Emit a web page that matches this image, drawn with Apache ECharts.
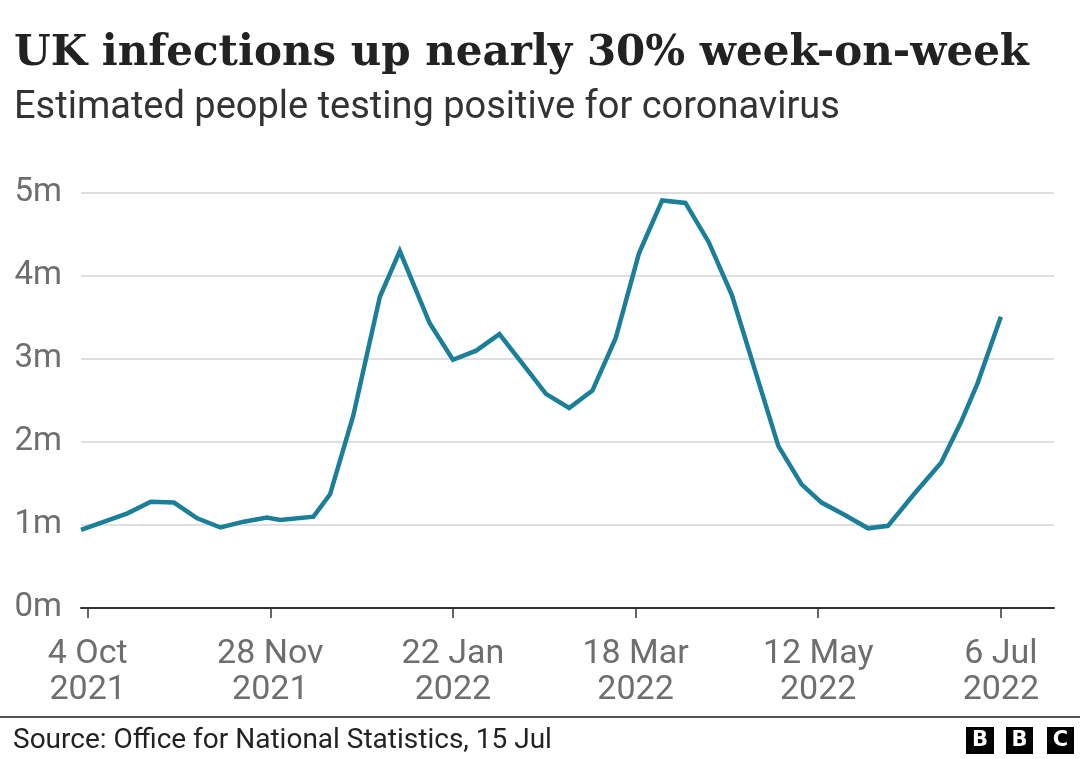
<!DOCTYPE html>
<html>
<head>
<meta charset="utf-8">
<script src="https://cdn.jsdelivr.net/npm/echarts@6/dist/echarts.min.js"></script>
<style>html,body{margin:0;padding:0;background:#fff;}#c{width:1080px;height:759px;}</style>
</head>
<body>
<div id="c"></div>
<script>
// ---- data ----
const dates = ['2021-10-02','2021-10-09','2021-10-16','2021-10-23','2021-10-30','2021-11-06','2021-11-13','2021-11-20','2021-11-27','2021-12-01','2021-12-11','2021-12-16','2021-12-23','2021-12-31','2022-01-06','2022-01-15','2022-01-22','2022-01-29','2022-02-05','2022-02-12','2022-02-19','2022-02-26','2022-03-05','2022-03-12','2022-03-19','2022-03-26','2022-04-02','2022-04-09','2022-04-16','2022-04-23','2022-04-30','2022-05-07','2022-05-13','2022-05-20','2022-05-27','2022-06-02','2022-06-10','2022-06-18','2022-06-24','2022-06-29','2022-07-06'];
const positives = [0.94,1.04,1.14,1.28,1.27,1.08,0.97,1.04,1.09,1.06,1.10,1.37,2.32,3.75,4.30,3.43,2.99,3.10,3.30,2.94,2.58,2.41,2.62,3.25,4.27,4.91,4.88,4.41,3.77,2.86,1.95,1.49,1.27,1.12,0.96,0.99,1.38,1.75,2.24,2.71,3.51];
const tickDates = ['2021-10-04','2021-11-28','2022-01-22','2022-03-18','2022-05-12','2022-07-06'];
const tickLabels = ['4 Oct\n2021','28 Nov\n2021','22 Jan\n2022','18 Mar\n2022','12 May\n2022','6 Jul\n2022'];
const yTicks = [0,1,2,3,4,5];
const yLabels = ['0m','1m','2m','3m','4m','5m'];
const axisStart = '2021-10-02';
const axisEnd = '2022-07-22';

// day offsets from the first tick date (UTC to avoid DST drift)
function dayOf(s){ const p = s.split('-').map(Number); return Date.UTC(p[0], p[1]-1, p[2]) / 86400000; }
const origin = dayOf(tickDates[0]);
const tickDays = tickDates.map(d => dayOf(d) - origin);
const seriesData = dates.map((d,i)=>[dayOf(d) - origin, positives[i]]);

const chart = echarts.init(document.getElementById('c'), null, {renderer:'canvas'});
chart.setOption({
  animation:false,
  backgroundColor:'#fff',
  grid:{left:81, right:26, top:193, bottom:151, containLabel:false},
  xAxis:{
    type:'value', min:dayOf(axisStart)-origin, max:dayOf(axisEnd)-origin,
    axisLine:{show:true, onZero:false, lineStyle:{color:'#333', width:2}},
    axisTick:{show:true, customValues:tickDays, length:10, lineStyle:{color:'#333', width:1.5}},
    axisLabel:{
      customValues:tickDays, color:'#6e6e6e', fontFamily:'Roboto', fontSize:34, lineHeight:36, margin:28,
      formatter:function(v){ const i = tickDays.indexOf(v); return i>=0 ? tickLabels[i] : ''; }
    },
    splitLine:{show:false}
  },
  yAxis:{
    type:'value', min:0, max:5, interval:1,
    axisLine:{show:false}, axisTick:{show:false},
    axisLabel:{color:'#6e6e6e', fontFamily:'Roboto', fontSize:33, margin:19,
      formatter:function(v){ const i = yTicks.indexOf(v); return i>=0 ? yLabels[i] : ''; }},
    splitLine:{show:true, lineStyle:{color:'#d4d4d4', width:1.5}}
  },
  series:[{
    type:'line', data:seriesData, showSymbol:false, symbol:'none',
    lineStyle:{color:'#1c7f9a', width:4.5, join:'miter'}
  }],
  graphic:[
    {type:'text', left:14, top:33, style:{text:'UK infections up nearly 30% week-on-week', font:'bold 42px "DejaVu Serif"', fill:'#222'}},
    {type:'text', left:14, top:89, style:{text:'Estimated people testing positive for coronavirus', font:'38px Roboto', fill:'#333'}},
    {type:'rect', shape:{x:0, y:716, width:1080, height:2}, style:{fill:'#555'}},
    {type:'text', left:13, top:727, style:{text:'Source: Office for National Statistics, 15 Jul', font:'28px Roboto', fill:'#222'}},
    {type:'rect', shape:{x:966, y:727, width:28, height:27}, style:{fill:'#000'}},
    {type:'rect', shape:{x:1006, y:727, width:27, height:27}, style:{fill:'#000'}},
    {type:'rect', shape:{x:1047, y:727, width:27, height:27}, style:{fill:'#000'}},
    {type:'text', x:980, y:741, style:{text:'B', font:'bold 21px "DejaVu Sans"', fill:'#fff', align:'center', verticalAlign:'middle'}},
    {type:'text', x:1019.5, y:741, style:{text:'B', font:'bold 21px "DejaVu Sans"', fill:'#fff', align:'center', verticalAlign:'middle'}},
    {type:'text', x:1060.5, y:741, style:{text:'C', font:'bold 21px "DejaVu Sans"', fill:'#fff', align:'center', verticalAlign:'middle'}}
  ]
});
</script>
</body>
</html>
